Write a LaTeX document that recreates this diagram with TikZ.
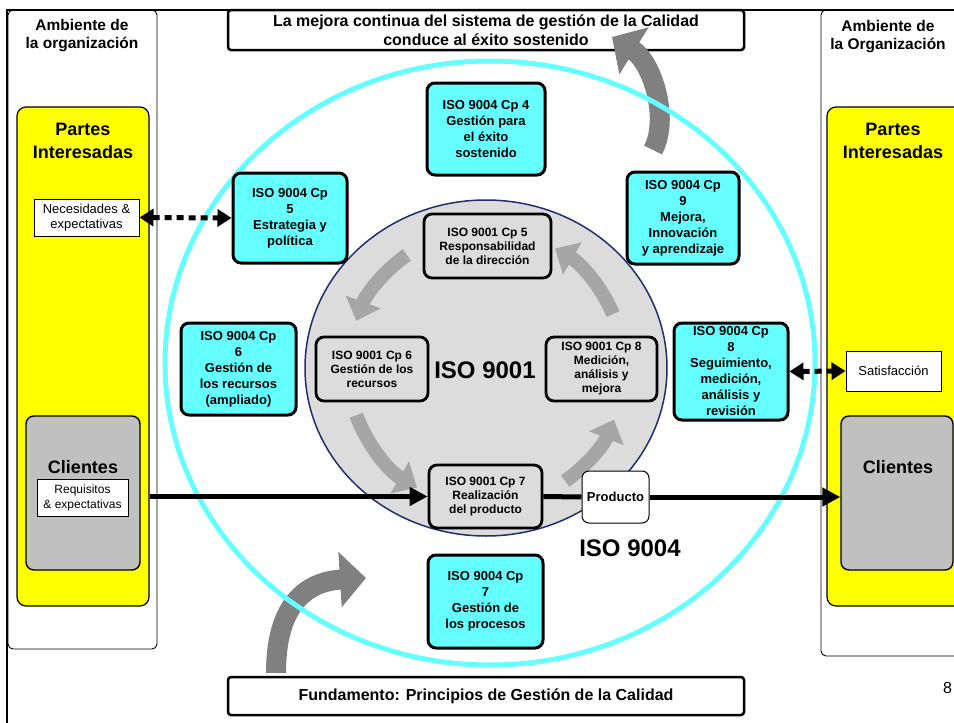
\documentclass[tikz,border=0pt]{standalone}
\usepackage{fontspec}
\setmainfont{Liberation Sans}
\usetikzlibrary{arrows.meta}

\definecolor{tuerkis}{HTML}{66FFFF}
\definecolor{hellgrau}{HTML}{DCDCDC}
\definecolor{kundengrau}{HTML}{C0C0C0}
\definecolor{kreisgrau}{HTML}{A6A6A6}
\definecolor{pfeilgrau}{HTML}{808080}
\definecolor{marine}{HTML}{1F2F6B}
\definecolor{gelb}{HTML}{FFFF00}

\tikzset{
  umfeld/.style={draw, line width=0.9pt, rounded corners=5pt, fill=white},
  gelbfeld/.style={draw, line width=1.2pt, rounded corners=9pt, fill=gelb},
  kundenfeld/.style={draw, line width=1.4pt, rounded corners=8pt, fill=kundengrau},
  notiz/.style={draw, line width=1pt, fill=white, inner sep=0pt, align=center, font=\fontsize{13}{15}\selectfont},
  titel/.style={inner sep=0pt, align=center, font=\bfseries\fontsize{15.5}{18}\selectfont},
  gross/.style={inner sep=0pt, align=center, font=\bfseries\fontsize{18}{23}\selectfont},
  riesig/.style={inner sep=0pt, font=\bfseries\fontsize{24}{28}\selectfont},
  banner/.style={draw, line width=2.5pt, rounded corners=3pt, fill=white, inner sep=0pt, align=center, font=\bfseries\fontsize{16}{19}\selectfont},
  kastenB/.style={draw, line width=3pt, rounded corners=8pt, fill=tuerkis, inner sep=0pt, align=center, font=\bfseries\fontsize{13}{16}\selectfont},
  kastenA/.style={draw, line width=2.8pt, rounded corners=8pt, fill=hellgrau, inner sep=0pt, align=center, font=\bfseries\fontsize{12}{14}\selectfont},
  vollpfeil/.style={line width=5pt, -{Triangle[length=18pt,width=18pt]}},
  punktpfeil/.style={line width=5pt, dash pattern=on 7pt off 5pt, {Triangle[length=14pt,width=17pt]}-{Triangle[length=14pt,width=17pt]}},
  kreispfeil/.style={line width=14pt, kreisgrau, -{Triangle[length=20pt,width=36pt]}},
  grosspfeil/.style={line width=20pt, pfeilgrau, -{Triangle[length=26pt,width=54pt]}},
}

\begin{document}
\begin{tikzpicture}[x=1pt,y=-1pt]
  \useasboundingbox (0,0) rectangle (954,723);

  % Umfeld links und rechts
  \node[umfeld, minimum width=149pt, minimum height=639pt] (umfeldL) at (82.5,329.5) {};
  \node[umfeld, minimum width=154pt, minimum height=646pt] (umfeldR) at (898,333) {};
  \node[titel] (titelL) at (82,36) {Ambiente de\\la organización};
  \node[titel] (titelR) at (888,37) {Ambiente de\\la Organización};

  % Partes interesadas
  \node[gelbfeld, minimum width=132pt, minimum height=499pt] (gelbL) at (83,356.5) {};
  \node[gelbfeld, minimum width=148pt, minimum height=499pt] (gelbR) at (901,356.5) {};
  \node[gross] (parteienL) at (83,141) {Partes\\Interesadas};
  \node[gross] (parteienR) at (893,141) {Partes\\Interesadas};
  \node[notiz, minimum width=105pt, minimum height=37pt] (bedarf) at (86.5,217.5) {Necesidades \&\\expectativas};
  \node[notiz, minimum width=95pt, minimum height=40pt] (zufriedenheit) at (893.5,371) {Satisfacción};
  \node[kundenfeld, minimum width=114pt, minimum height=154pt] (kundenL) at (83,493) {};
  \node[kundenfeld, minimum width=112pt, minimum height=154pt] (kundenR) at (897,493) {};
  \node[gross] (kundeTextL) at (83,467) {Clientes};
  \node[gross] (kundeTextR) at (898,467) {Clientes};
  \node[notiz, minimum width=91pt, minimum height=37pt, font=\fontsize{12}{15}\selectfont] (anforderung) at (82.5,497.5) {Requisitos\\\& expectativas};

  % Rahmen und Banner
  \node[banner, minimum width=516pt, minimum height=40pt] (oben) at (486,30) {La mejora continua del sistema de gestión de la Calidad\\conduce al éxito sostenido};
  \node[banner, minimum width=516pt, minimum height=38pt] (unten) at (486,696) {Fundamento: Principios de Gestión de la Calidad};
  \draw[line width=2.5pt] (954,10) -- (7,10) -- (7,723);

  % grosse Pfeile
  \coordinate (fussU) at (276,673);
  \coordinate (spitzeU) at (366,578);
  \coordinate (fussO) at (653,150);
  \coordinate (spitzeO) at (612,37);
  \draw[grosspfeil] (fussU) .. controls (276,612) and (300,582) .. (spitzeU);
  \draw[grosspfeil] (fussO) .. controls (670,118) and (652,62) .. (spitzeO);

  % ISO 9004 Kreis
  \draw[tuerkis, line width=5pt] (490,363) ellipse [x radius=325, y radius=302];

  % ISO 9001 Kreis
  \draw[marine, line width=1.5pt, fill=hellgrau] (486,368) ellipse [x radius=181, y radius=168];
  \coordinate (mitte) at (486,368);
  \draw[kreispfeil] (mitte) ++(-125:138) arc[start angle=-125, end angle=-160, radius=138];
  \draw[kreispfeil] (mitte) ++(-200:138) arc[start angle=-200, end angle=-240, radius=138];
  \draw[kreispfeil] (mitte) ++(-305:138) arc[start angle=-305, end angle=-338, radius=138];
  \draw[kreispfeil] (mitte) ++(-23:138) arc[start angle=-23, end angle=-60, radius=138];
  \node[riesig] (iso1) at (485,370) {ISO 9001};
  \node[riesig] (iso4) at (630,548) {ISO 9004};

  % ISO 9001 Kapitel
  \node[kastenA, minimum width=127pt, minimum height=64pt] (a5) at (487.5,246) {ISO 9001 Cp 5\\Responsabilidad\\de la dirección};
  \node[kastenA, minimum width=112pt, minimum height=64pt] (a6) at (372,369) {ISO 9001 Cp 6\\Gestión de los\\recursos};
  \node[kastenA, minimum width=111pt, minimum height=64pt] (a8) at (601.5,369) {ISO 9001 Cp 8\\Medición,\\análisis y\\mejora};
  \node[kastenA, minimum width=113pt, minimum height=63pt] (a7) at (485.5,496.5) {ISO 9001 Cp 7\\Realización\\del producto};
  \node[draw, line width=1pt, rounded corners=7pt, fill=white, minimum width=67pt, minimum height=52pt, inner sep=0pt, font=\bfseries\fontsize{13}{15}\selectfont] (produkt) at (615.5,497) {Producto};

  % ISO 9004 Kapitel
  \node[kastenB, minimum width=118pt, minimum height=92pt] (b4) at (486,129) {ISO 9004 Cp 4\\Gestión para\\el éxito\\sostenido};
  \node[kastenB, minimum width=114pt, minimum height=90pt] (b5) at (290,218) {ISO 9004 Cp\\5\\Estrategia y\\política};
  \node[kastenB, minimum width=115pt, minimum height=92pt] (b6) at (238.5,369) {ISO 9004 Cp\\6\\Gestión de\\los recursos\\(ampliado)};
  \node[kastenB, minimum width=112pt, minimum height=92pt] (b9) at (683,218) {ISO 9004 Cp\\9\\Mejora,\\Innovación\\y aprendizaje};
  \node[kastenB, minimum width=114pt, minimum height=97pt] (b8) at (731,371.5) {ISO 9004 Cp\\8\\Seguimiento,\\medición,\\análisis y\\revisión};
  \node[kastenB, minimum width=115pt, minimum height=93pt] (b7) at (485.5,601.5) {ISO 9004 Cp\\7\\Gestión de\\los procesos};

  % Verbindungen
  \draw[vollpfeil] (gelbL.east |- a7.west) -- (a7.west);
  \draw[line width=5pt] (a7.east) -- (produkt.west);
  \draw[vollpfeil] (produkt.east) -- (produkt.east -| kundenR.west);
  \draw[punktpfeil] (bedarf.east) -- (b5.west);
  \draw[punktpfeil] (b8.east) -- (zufriedenheit.west);

  \node[anchor=west, inner sep=0pt, font=\fontsize{16}{19}\selectfont] (seite) at (943,688) {8};
\end{tikzpicture}
\end{document}
